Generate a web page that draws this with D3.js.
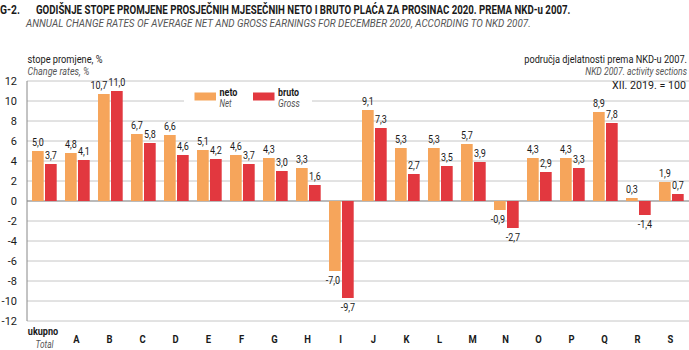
<!DOCTYPE html>
<html>
<head>
<meta charset="utf-8">
<script src="https://cdn.jsdelivr.net/npm/d3@7"></script>
<style>
  body { margin: 0; background: #fff; }
  text { font-family: "Roboto", "Liberation Sans", sans-serif; fill: #1a1a1a; }
  .it { font-style: italic; fill: #555; }
</style>
</head>
<body>
<div id="chart"></div>
<script>
// podaci
const categories = ["ukupno", "A", "B", "C", "D", "E", "F", "G", "H", "I", "J", "K", "L", "M", "N", "O", "P", "Q", "R", "S"];
const netValues = [5.0, 4.8, 10.7, 6.7, 6.6, 5.1, 4.6, 4.3, 3.3, -7.0, 9.1, 5.3, 5.3, 5.7, -0.9, 4.3, 4.3, 8.9, 0.3, 1.9];
const grossValues = [3.7, 4.1, 11.0, 5.8, 4.6, 4.2, 3.7, 3.0, 1.6, -9.7, 7.3, 2.7, 3.5, 3.9, -2.7, 2.9, 3.3, 7.8, -1.4, 0.7];
const yTicks = [12, 10, 8, 6, 4, 2, 0, -2, -4, -6, -8, -10, -12];
const seriesNames = ["neto", "bruto"];
const seriesNamesEn = ["Net", "Gross"];
const colors = ["#f6a55b", "#e2383f"];

const width = 689, height = 350;
const plot = { left: 27, right: 687, top: 81, bottom: 321 };

const svg = d3.select("#chart").append("svg")
    .attr("width", width)
    .attr("height", height);

const x = d3.scaleBand().domain(categories).range([plot.left, plot.right]);
const y = d3.scaleLinear().domain([-12, 12]).range([plot.bottom, plot.top]);
const fmt = v => d3.format(".1f")(v).replace(".", ",").replace("−", "-");

// tekst: len = ciljana širina (sužavanje transformom), sx = fiksno sužavanje
function label(px, py, str, o = {}) {
    const t = svg.append("text")
        .attr("class", o.italic ? "it" : null)
        .attr("text-anchor", o.anchor || "start")
        .style("font-size", (o.size || 11) + "px")
        .style("font-weight", o.bold ? "bold" : null)
        .text(str);
    let k = o.sx || 1;
    if (o.len) k = o.len / t.node().getComputedTextLength();
    t.attr("transform", `translate(${px},${py}) scale(${k},1)`);
    return t;
}

// naslov
label(0, 14, "G-2.", { size: 12.5, bold: true, len: 20 });
label(36, 14, "GODIŠNJE STOPE PROMJENE PROSJEČNIH MJESEČNIH NETO I BRUTO PLAĆA ZA PROSINAC 2020. PREMA NKD-u 2007.",
    { size: 12.5, bold: true, len: 535 });
label(26, 26.5, "ANNUAL CHANGE RATES OF AVERAGE NET AND GROSS EARNINGS FOR DECEMBER 2020, ACCORDING TO NKD 2007.",
    { size: 10.8, italic: true, len: 505 });

// mreža
svg.append("g")
    .selectAll("line")
    .data(yTicks)
    .join("line")
    .attr("x1", plot.left).attr("x2", width)
    .attr("y1", d => y(d)).attr("y2", d => y(d))
    .attr("stroke", d => d === 0 ? "#777" : "#c6c6c6")
    .attr("stroke-width", d => d === 0 ? 1.2 : 1);

svg.append("line")
    .attr("x1", plot.left).attr("x2", plot.left)
    .attr("y1", plot.top).attr("y2", plot.bottom)
    .attr("stroke", "#888");

// os y
const yAxis = svg.append("g")
    .attr("transform", "translate(20,0)")
    .call(d3.axisLeft(y).tickValues(yTicks).tickSize(0).tickFormat(d => d3.format("d")(d).replace("−", "-")));
yAxis.select(".domain").remove();
yAxis.selectAll("text")
    .style("font-size", "11px")
    .attr("fill", "#1a1a1a");

// legenda
svg.append("rect").attr("x", 184).attr("y", 86).attr("width", 128).attr("height", 30).attr("fill", "#fff");
const legendX = [194.5, 253];
const legendW = [[18, 12], [21, 22]];
seriesNames.forEach((name, i) => {
    svg.append("rect").attr("x", legendX[i]).attr("y", 92.5).attr("width", 21.5).attr("height", 8).attr("fill", colors[i]);
    label(legendX[i] + 25, 95.5, name, { size: 11, bold: true, len: legendW[i][0] });
    label(legendX[i] + 25, 107, seriesNamesEn[i], { size: 11, italic: true, len: legendW[i][1] });
});

// stupci
const sub = d3.scaleBand().domain([0, 1]).range([5, 29.7]).paddingInner(0.1);
const rows = categories.map((c, i) => [
    { cat: c, s: 0, v: netValues[i] },
    { cat: c, s: 1, v: grossValues[i] }
]).flat();

svg.append("g")
    .selectAll("rect")
    .data(rows)
    .join("rect")
    .attr("x", d => x(d.cat) + sub(d.s))
    .attr("width", sub.bandwidth())
    .attr("y", d => y(Math.max(0, d.v)))
    .attr("height", d => Math.abs(y(d.v) - y(0)))
    .attr("fill", d => colors[d.s]);

// vrijednosti
const valueLabels = rows.map(d => {
    const cx = x(d.cat) + sub(d.s) + sub.bandwidth() / 2 - (d.s === 0 && d.v < 0 ? 2 : 0);
    const cy = d.v >= 0 ? y(d.v) - 5 : y(d.v) + 12.5;
    return { d, cx, cy, el: label(cx, cy, fmt(d.v), { size: 10, anchor: "middle", sx: 0.9 }) };
});
// razmakni preklopljene natpise
categories.forEach(c => {
    const [a, b] = valueLabels.filter(l => l.d.cat === c);
    const ba = a.el.node().getBoundingClientRect(), bb = b.el.node().getBoundingClientRect();
    const overlapY = ba.bottom > bb.top && bb.bottom > ba.top;
    const overlapX = ba.right + 1 - bb.left;
    if (overlapY && overlapX > 0) {
        a.el.attr("transform", `translate(${a.cx - overlapX},${a.cy}) scale(0.9,1)`);
    }
});

// kategorije
categories.forEach(c => {
    const cx = x(c) + x.bandwidth() / 2;
    if (c === "ukupno") {
        label(cx - 0.5, 334.5, c, { size: 11, bold: true, anchor: "middle", len: 30.5 });
        label(cx + 1, 348, "Total", { size: 10.5, italic: true, anchor: "middle", len: 18 });
    } else {
        label(cx, 342.7, c, { size: 11.5, bold: true, anchor: "middle", sx: 0.82 });
    }
});

// natpisi osi
label(27.5, 62.5, "stope promjene, %", { size: 11, len: 75 });
label(27.5, 75, "Change rates, %", { size: 11, italic: true, len: 62 });
label(687, 62.5, "područja djelatnosti prema NKD-u 2007.", { size: 11, anchor: "end", len: 163 });
label(687, 75, "NKD 2007. activity sections", { size: 11, italic: true, anchor: "end", len: 102 });
label(686, 88.5, "XII. 2019. = 100", { size: 11, anchor: "end", len: 74 });
</script>
</body>
</html>
